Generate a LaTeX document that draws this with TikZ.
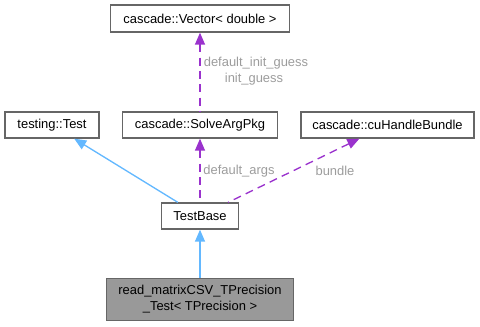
\documentclass[tikz,border=0pt]{standalone}
\usepackage{xcolor}
\usepackage{tikz}
\usepackage{fontspec}
\setmainfont{Liberation Sans}
\usetikzlibrary{arrows.meta}

\definecolor{edgeblue}{HTML}{63B8FF}
\definecolor{edgepurple}{HTML}{9A32CD}
\definecolor{boxline}{HTML}{666666}
\definecolor{lblgray}{HTML}{9C9C9C}

\tikzset{
  cls/.style={draw=boxline, line width=1pt, fill=white, inner sep=0pt,
    font=\fontsize{9.7}{12}\selectfont, align=center},
  inherit/.style={draw=edgeblue, line width=1pt,
    {Triangle[width=7.5pt,length=9pt]}-},
  member/.style={draw=edgepurple, line width=1pt, dash pattern=on 6pt off 4pt,
    {Triangle[width=7.5pt,length=9pt]}-},
  lbl/.style={text=lblgray, font=\fontsize{9.7}{12}\selectfont, inner sep=0pt}
}

\begin{document}
\begin{tikzpicture}[x=0.75pt,y=-0.75pt]
\useasboundingbox (0,0) rectangle (480,327);
\node[cls, minimum width=179*0.75pt, minimum height=27*0.75pt] (vec) at (200,18.5) {cascade::Vector< double >};
\node[cls, minimum width=94*0.75pt, minimum height=26*0.75pt] (test) at (52,125) {testing::Test};
\node[cls, minimum width=155*0.75pt, minimum height=26*0.75pt] (solve) at (200,125) {cascade::SolveArgPkg};
\node[cls, minimum width=173*0.75pt, minimum height=26*0.75pt] (cuhb) at (387.5,125) {cascade::cuHandleBundle};
\node[cls, minimum width=77*0.75pt, minimum height=26*0.75pt] (base) at (200,216) {TestBase};
\node[cls, fill=black!40, minimum width=187*0.75pt, minimum height=42*0.75pt] (rmat) at (200,299.5) {read\_matrixCSV\_TPrecision\\\_Test< TPrecision >};

\draw[member] (vec) -- (solve);
\node[lbl] (lblguess) at (256,63) {default\_init\_guess};
\node[lbl] (lblinit) at (254,79) {init\_guess};

\draw[inherit] (test) -- (base);
\draw[member] (solve) -- (base);
\draw[member] (cuhb) -- (base);
\node[lbl] (lblargs) at (239,171) {default\_args};
\node[lbl] (lblbundle) at (335,171) {bundle};

\draw[inherit] (base) -- (rmat);
\end{tikzpicture}
\end{document}
